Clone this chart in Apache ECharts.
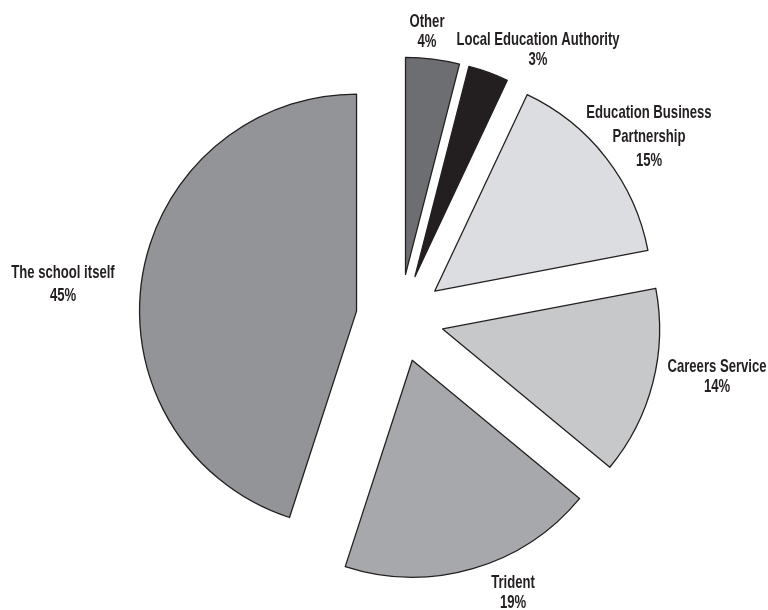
<!DOCTYPE html>
<html>
<head>
<meta charset="utf-8">
<title>Sources of support</title>
<script src="https://cdn.jsdelivr.net/npm/echarts@6/dist/echarts.min.js"></script>
<style>
  html, body { margin: 0; padding: 0; background: #ffffff; }
  #chart { width: 768px; height: 610px; }
</style>
</head>
<body>
<div id="chart"></div>
<script>
// Slices, clockwise from twelve o'clock
const categories = ['Other', 'Local Education Authority', 'Education Business\nPartnership', 'Careers Service', 'Trident', 'The school itself'];
const shares = [4, 3, 15, 14, 19, 45];

// Fill for each slice
const sliceColors = ['#6d6e71', '#231f20', '#dcdde0', '#c7c8ca', '#a7a8ab', '#939498'];

// Where each label block is centred, and its line spacing
const labelSpots = [[427, 32], [538, 50], [649, 137], [717, 377], [513, 593], [63, 284]];
const labelLineHeights = [20, 20, 24, 20, 20, 23];

// Condensed lettering: a sans face squeezed horizontally
const labelFont = 'bold 19px "Liberation Sans", Arial, sans-serif';
const labelSqueeze = 0.69;
const total = shares.reduce(function (a, b) { return a + b; }, 0);

const chart = echarts.init(document.getElementById('chart'), null, { renderer: 'canvas' });

const edge = { borderColor: '#231f20', borderWidth: 1.3 };

// Name and percentage for every slice, set beside it
const labelTexts = categories.map(function (name, i) {
  return {
    type: 'text',
    x: labelSpots[i][0],
    y: labelSpots[i][1],
    scaleX: labelSqueeze,
    silent: true,
    style: {
      text: name + '\n' + Math.round(shares[i] / total * 100) + '%',
      font: labelFont,
      fill: '#231f20',
      align: 'center',
      verticalAlign: 'middle',
      lineHeight: labelLineHeights[i]
    }
  };
});

chart.setOption({
  animation: false,
  backgroundColor: '#ffffff',
  graphic: labelTexts,
  series: [{
    type: 'pie',
    center: [400, 318],
    radius: 217,
    startAngle: 90,
    clockwise: true,
    selectedMode: 'multiple',
    selectedOffset: 44,
    itemStyle: edge,
    select: { itemStyle: edge },
    emphasis: { disabled: true },
    label: { show: false },
    labelLine: { show: false },
    data: categories.map(function (name, i) {
      return {
        name: name,
        value: shares[i],
        selected: true,
        itemStyle: { color: sliceColors[i] },
        select: { itemStyle: { color: sliceColors[i] } }
      };
    })
  }]
});
</script>
</body>
</html>
